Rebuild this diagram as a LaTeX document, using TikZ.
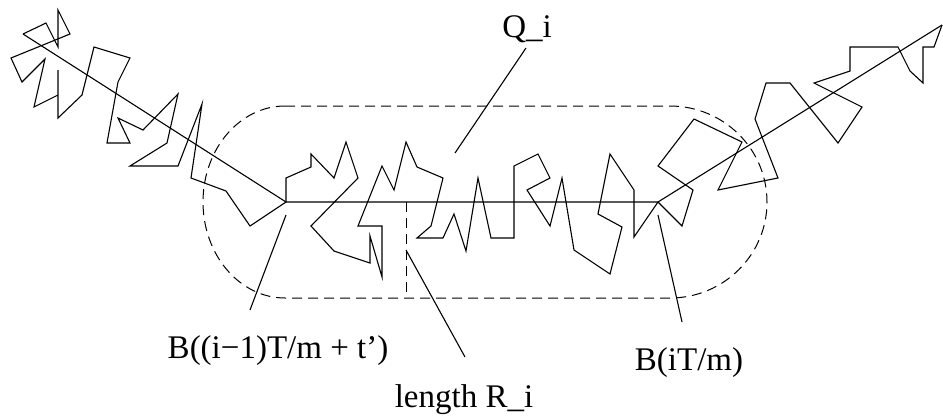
\documentclass[tikz,border=0pt]{standalone}
\usepackage{fontspec}
\setmainfont{Liberation Serif}
\begin{document}
\begin{tikzpicture}[x=1pt, y=-1pt, line width=1.1pt, line join=miter]
        \tikzset{lbl/.style={font=\fontsize{33}{38}\selectfont, anchor=base, inner sep=0pt},
                 dashline/.style={line width=1pt, dash pattern=on 10pt off 6pt}}
        \useasboundingbox (0,0) rectangle (943,416);

        % Brownian path
        \draw (23,34) -- (46,23) -- (58,47) -- (58,10) -- (70,34) -- (11,58) -- (22,82) -- (45,59)
              -- (34,107) -- (58,95) -- (58,70) -- (58,118) -- (82,95) -- (94,47) -- (130,58) -- (118,82)
              -- (107,143) -- (130,143) -- (118,118) -- (143,130) -- (178,94) -- (167,143) -- (130,166)
              -- (178,166) -- (202,104) -- (191,178) -- (226,191) -- (250,226) -- (286,202) -- (286,178)
              -- (311,167) -- (311,154) -- (334,178) -- (346,142) -- (358,178) -- (311,226) -- (334,251)
              -- (370,263) -- (370,236) -- (382,277) -- (382,226) -- (358,226) -- (382,166) -- (394,190)
              -- (406,142) -- (417,167) -- (443,178) -- (431,226) -- (417,238) -- (443,238) -- (454,214)
              -- (466,251) -- (478,178) -- (491,238) -- (514,238) -- (514,166) -- (538,154) -- (550,178)
              -- (527,190) -- (550,226) -- (562,178) -- (574,250) -- (610,274) -- (622,227) -- (598,214)
              -- (610,154) -- (634,190) -- (634,237) -- (658,202) -- (682,226) -- (693,190) -- (658,166)
              -- (694,119) -- (742,142) -- (718,190) -- (778,178) -- (755,119) -- (766,83) -- (790,83)
              -- (838,143) -- (862,107) -- (814,83) -- (850,71) -- (850,47) -- (898,47) -- (910,71)
              -- (923,83) -- (923,47) -- (934,47) -- (942,25);

        % Chords between the sample points
        \coordinate (s0) at (23,34);
        \coordinate (b1) at (286,202);
        \coordinate (b2) at (658,202);
        \coordinate (s1) at (942,25);
        \draw (s0) -- (b1) -- (b2) -- (s1);

        % Dashed region Q_i
        \draw[dashline] (285,106) -- (670,106)
              arc[start angle=-90, end angle=90, x radius=97, y radius=96]
              -- (285,298)
              arc[start angle=90, end angle=270, x radius=82, y radius=96] -- cycle;

        % Height R_i
        \coordinate (r0) at (406,202);
        \coordinate (r1) at (406,298);
        \draw[dashline] (r0) -- (r1);

        % Labels
        \node[lbl] (qi) at (527,37) {Q\_i};
        \node[lbl] (bl) at (278,358) {B((i−1)T/m + t’)};
        \node[lbl] (ri) at (464,407) {length R\_i};
        \node[lbl] (br) at (689,370) {B(iT/m)};

        \coordinate (qa) at (526,48);
        \coordinate (qb) at (455,153);
        \coordinate (la) at (286,215);
        \coordinate (lb) at (250,310);
        \coordinate (ra) at (406,250);
        \coordinate (rb) at (465,357);
        \coordinate (ma) at (658,215);
        \coordinate (mb) at (682,322);

        \draw (qa) -- (qb);
        \draw (la) -- (lb);
        \draw (ra) -- (rb);
        \draw (ma) -- (mb);
\end{tikzpicture}
\end{document}
